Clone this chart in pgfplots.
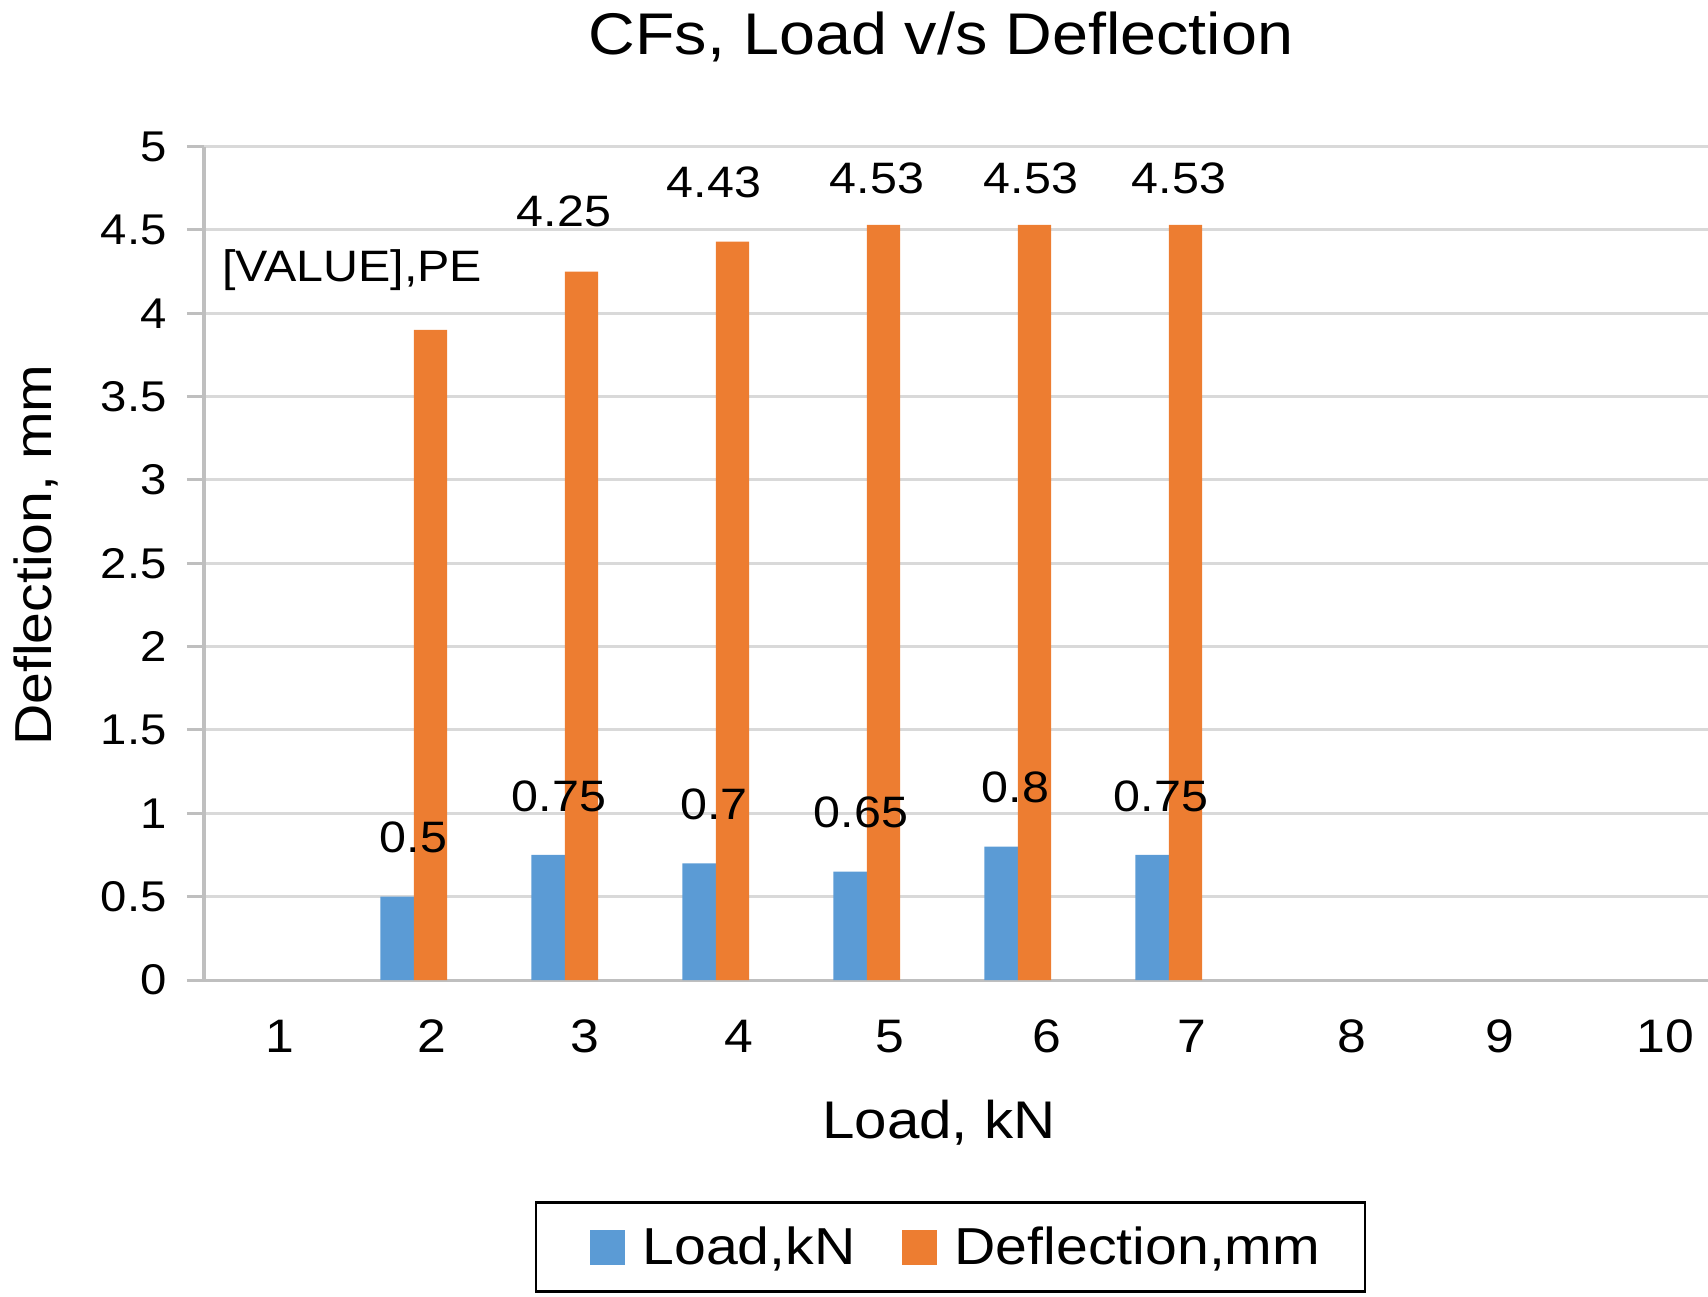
\documentclass[border=0pt]{standalone}
\usepackage{fontspec}
\setmainfont{Liberation Sans}[FakeStretch=1.1]
\usepackage{pgfplots}
\usepackage{pgfplotstable}
\pgfplotsset{compat=1.18}
\definecolor{cblue}{RGB}{91,155,213}
\definecolor{corange}{RGB}{237,125,49}
\definecolor{axisgray}{RGB}{191,191,191}
\definecolor{gridgray}{RGB}{217,217,217}
\newcommand\titlefont{\fontsize{29.4}{34}\selectfont}
\newcommand\ytickfont{\fontsize{21.5}{25}\selectfont}
\newcommand\xtickfont{\fontsize{23.5}{28}\selectfont}
\newcommand\xlabfont{\fontsize{26.5}{31}\selectfont}
\newcommand\ylabfont{\fontsize{26}{31}\selectfont}
\newcommand\legfont{\fontsize{26}{31}\selectfont}
\newcommand\datafont{\fontsize{22}{26}\selectfont}

\pgfplotstableread{
x y lbl dx dy
2 0.5 0.5 -8.45 29.5
3 0.75 0.75 -11.25 29.5
4 0.7 0.7 -9.25 29.5
5 0.65 0.65 -11.25 29.5
6 0.8 0.8 -9.45 29.5
7 0.75 0.75 -12.25 29.5
}\loaddata

\pgfplotstableread{
x y lbl dx dy
2 3.9 [VALUE],PE -39.2 30
3 4.25 4.25 -8.8 30
4 4.43 4.43 -9.2 29.5
5 4.53 4.53 -3.2 23.5
6 4.53 4.53 -1.8 23.5
7 4.53 4.53 -3.2 23.5
}\defdata

\begin{document}
\begin{tikzpicture}
\path[use as bounding box] (0,0) rectangle (854pt,648pt);
\begin{axis}[
  at={(102pt,158pt)}, anchor=south west,
  scale only axis, width=752pt, height=416.67pt,
  xmin=0.5, xmax=10.4603, ymin=0, ymax=5,
  xtick={1.003,2.008,3.022,4.042,5.045,6.082,7.042,8.101,9.083,10.176},
  xticklabels={1,2,3,4,5,6,7,8,9,10},
  ytick={0,0.5,1,1.5,2,2.5,3,3.5,4,4.5,5},
  /pgf/number format/assume math mode=true,
  axis lines*=left,
  axis line style={-, draw=axisgray, line width=1.5pt},
  ymajorgrids,
  major grid style={draw=gridgray, line width=1.5pt},
  major tick length=8.5pt,
  ytick style={draw=axisgray, line width=1.5pt, xshift=-8.5pt},
  xtick style={draw=none},
  yticklabel style={font=\ytickfont, anchor=east, inner sep=0pt, xshift=-18.5pt},
  xticklabel style={font=\xtickfont, anchor=base, inner sep=0pt, yshift=-36pt},
  title={CFs, Load v/s Deflection},
  every axis title/.style={at={(axis description cs:0.49,1.110)}, anchor=base, font=\titlefont},
  xlabel={Load, kN},
  every axis x label/.style={at={(axis description cs:0.4887,-0.1908)}, anchor=base, font=\xlabfont},
  ylabel={Deflection, mm},
  every axis y label/.style={at={(axis description cs:-0.1017,0.51)}, rotate=90, anchor=base, font=\ylabfont},
  legend columns=2,
  legend style={at={(axis description cs:0.4963,-0.3204)}, anchor=center,
    draw=black, line width=1.3pt, font=\legfont,
    nodes={inner sep=0pt},
    inner xsep=22.3pt, inner ysep=12pt,
    /tikz/every even column/.append style={column sep=23.4pt}},
  legend cell align=left,
]
\addlegendimage{legend image code/.code={\path[draw=none, fill=none] (-4.7pt,0pt) -- (26.2pt,0pt); \path[draw=none, fill=cblue] (0pt,-8.75pt) rectangle (17.5pt,8.75pt);}}
\addlegendentry{Load,kN}
\addlegendimage{legend image code/.code={\path[draw=none, fill=none] (0pt,0pt) -- (26.2pt,0pt); \path[draw=none, fill=corange] (0pt,-8.75pt) rectangle (17.5pt,8.75pt);}}
\addlegendentry{Deflection,mm}

\addplot[ybar, bar width=0.2208, bar shift=-0.2208, fill=cblue, draw=none, forget plot,
  nodes near coords, point meta=explicit symbolic,
  visualization depends on={\thisrow{dx} \as \dx},
  visualization depends on={\thisrow{dy} \as \dy},
  every node near coord/.style={anchor=center, xshift=\dx pt, yshift=\dy pt, font=\datafont, text=black, inner sep=0pt}]
  table[x=x, y=y, meta=lbl] {\loaddata};

\addplot[ybar, bar width=0.2208, bar shift=0, fill=corange, draw=none, forget plot,
  nodes near coords, point meta=explicit symbolic,
  visualization depends on={\thisrow{dx} \as \dx},
  visualization depends on={\thisrow{dy} \as \dy},
  every node near coord/.style={anchor=center, xshift=\dx pt, yshift=\dy pt, font=\datafont, text=black, inner sep=0pt}]
  table[x=x, y=y, meta=lbl] {\defdata};
\end{axis}
\end{tikzpicture}
\end{document}
